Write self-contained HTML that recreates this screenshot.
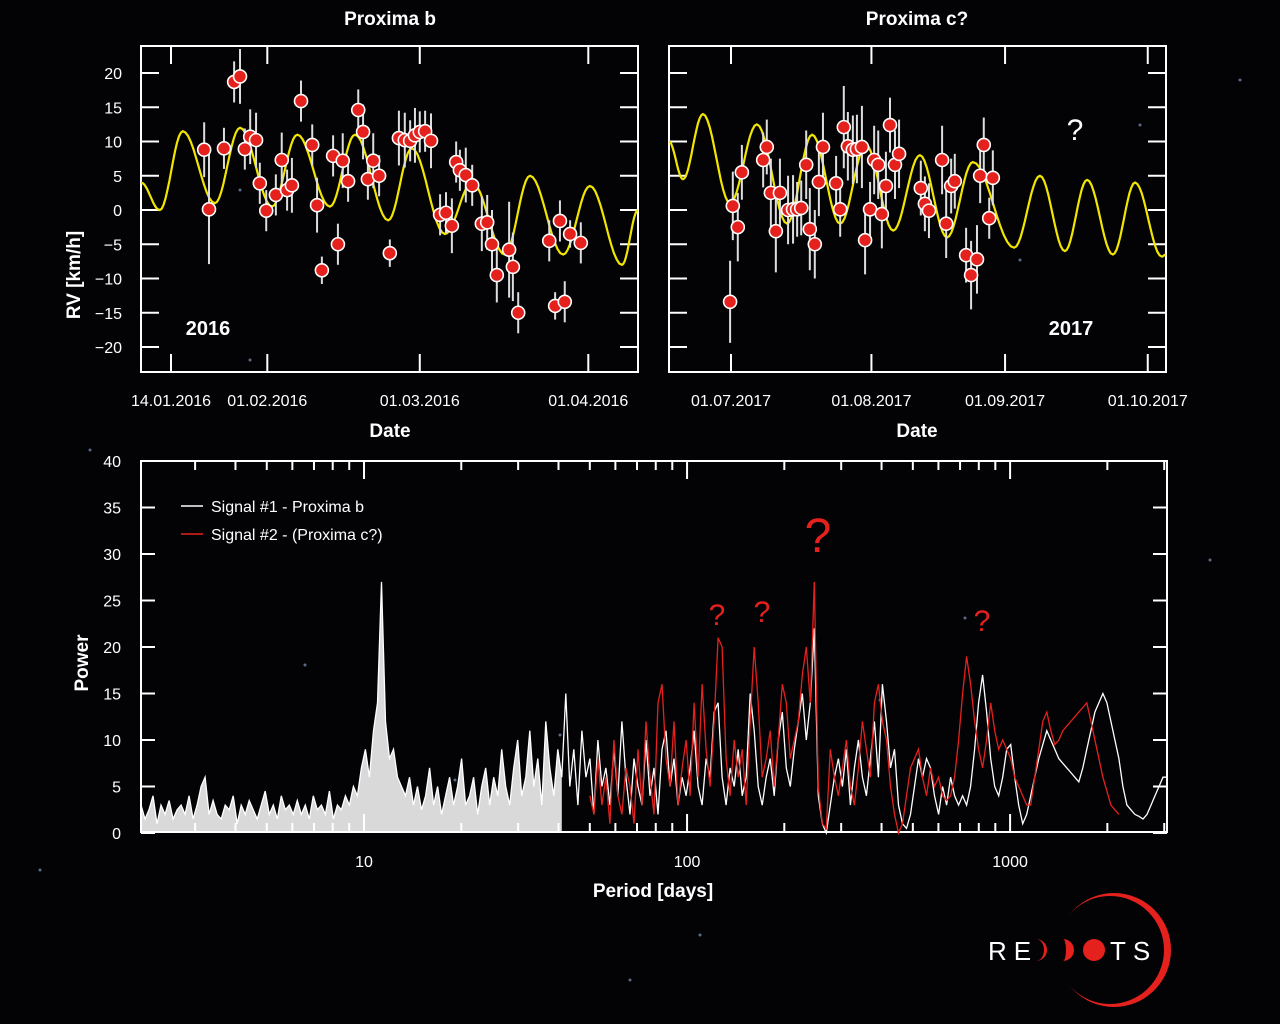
<!DOCTYPE html>
<html><head><meta charset="utf-8"><style>
html,body{margin:0;padding:0;background:#030306;}
svg{display:block;font-family:"Liberation Sans",sans-serif;}
</style></head><body>
<svg id="s" width="1280" height="1024" viewBox="0 0 1280 1024" xmlns="http://www.w3.org/2000/svg">
<rect width="1280" height="1024" fill="#030306"/>
<g id="stars"></g>
<text x="390" y="25" fill="#fff" font-size="19" font-weight="bold" text-anchor="middle">Proxima b</text>
<text x="917" y="25" fill="#fff" font-size="19" font-weight="bold" text-anchor="middle">Proxima c?</text>
<g id="p1"></g>
<g id="p2"></g>
<g id="p3"></g>
<text x="80" y="275" fill="#fff" font-size="19" font-weight="bold" text-anchor="middle" transform="rotate(-90 80 275)">RV [km/h]</text>
<text x="390" y="437" fill="#fff" font-size="19" font-weight="bold" text-anchor="middle">Date</text>
<text x="917" y="437" fill="#fff" font-size="19" font-weight="bold" text-anchor="middle">Date</text>
<text x="88" y="663" fill="#fff" font-size="19" font-weight="bold" text-anchor="middle" transform="rotate(-90 88 663)">Power</text>
<text x="653" y="897" fill="#fff" font-size="19" font-weight="bold" text-anchor="middle">Period [days]</text>
<text x="208" y="335" fill="#fff" font-size="20" font-weight="bold" text-anchor="middle">2016</text>
<text x="1071" y="335" fill="#fff" font-size="20" font-weight="bold" text-anchor="middle">2017</text>
<text x="1075" y="140" fill="#fff" font-size="30" text-anchor="middle">?</text>
<g fill="#e5211d" text-anchor="middle">
<text x="717" y="625" font-size="30">?</text>
<text x="762" y="622" font-size="30">?</text>
<text x="818" y="552" font-size="48">?</text>
<text x="982" y="631" font-size="30">?</text>
</g>
<g>
<line x1="181" y1="506" x2="203" y2="506" stroke="#fff" stroke-width="1.5"/>
<text x="211" y="512" fill="#fff" font-size="16">Signal #1 - Proxima b</text>
<line x1="181" y1="534" x2="203" y2="534" stroke="#e5211d" stroke-width="1.5"/>
<text x="211" y="540" fill="#fff" font-size="16">Signal #2 - (Proxima c?)</text>
</g>
<g>
<circle cx="1114" cy="950" r="57" fill="#e5211d"/>
<circle cx="1110" cy="950" r="54" fill="#030306"/>
<text x="988" y="960" fill="#fff" font-size="26" letter-spacing="7">RE</text>
<path d="M1036 939 A11 11 0 0 1 1036 961 A8 11 0 0 0 1036 939Z" fill="#e5211d"/>
<path d="M1063 939 A11 11 0 0 1 1063 961 A3 11 0 0 0 1063 939Z" fill="#e5211d"/>
<circle cx="1094" cy="950" r="11" fill="#e5211d"/>
<text x="1110" y="960" fill="#fff" font-size="26" letter-spacing="7">TS</text>
</g>
</svg>
<script>
// ---- data: 2016 RV (day since 14.01.2016) ----
const days16=[6.2,7.1,9.9,11.8,12.9,13.8,14.8,15.9,16.6,17.8,19.6,20.7,21.7,22.6,24.3,26.4,27.3,28.2,30.3,31.2,32.1,33.1,35,35.9,36.8,37.8,38.9,40.9,42.6,43.7,44.7,45.6,46.5,47.5,48.6,50.3,51.4,52.5,53.3,54,55.1,56.3,58.1,59.1,60,60.9,63.2,63.9,64.9,70.7,71.8,72.7,73.6,74.6,76.6];
const rv16=[8.8,0.1,9,18.7,19.5,8.9,10.7,10.2,3.9,-0.1,2.2,7.3,2.9,3.6,15.9,9.5,0.7,-8.8,7.9,-5,7.2,4.2,14.6,11.4,4.5,7.2,5,-6.3,10.5,10.2,10.1,10.9,11.4,11.5,10.1,-0.7,-0.4,-2.3,7,5.8,5.1,3.6,-2,-1.8,-5,-9.5,-5.8,-8.3,-15,-4.5,-14,-1.6,-13.4,-3.5,-4.8];
const err16=[4,8,3,3,4,3,4,4,3,3,3,4,3,4,3,3,4,2,3,3,4,3,3,4,3,4,3,2,4,4,3,4,3,3,4,3,3,4,3,3,4,3,4,4,5,4,7,5,3,3,2,3,3,2,3];
const fitDays16=[-5.6,-2.1,2.2,8.2,12.9,18.9,23.6,29.7,34.4,40.6,45,51.2,56.3,62.4,67.1,73.3,78.3,84.3,87.3];
const fitVals16=[4,0,11.5,1,12,0.5,11,0.5,11,-1.5,9,-3.5,4,-6.5,5,-6.5,3.5,-8,0];
const ticks16=[{d:0,l:"14.01.2016"},{d:18,l:"01.02.2016"},{d:46.5,l:"01.03.2016"},{d:78,l:"01.04.2016"}];
// ---- data: 2017 RV (day since 01.07.2017) ----
const days17=[-0.2,0.4,1.5,2.4,7.1,7.9,8.8,9.9,10.8,12.6,13.7,14.6,15.5,16.6,17.4,18.5,19.4,20.3,23.2,24.1,24.9,25.8,26.9,27.8,28.9,29.6,30.7,31.6,32.5,33.3,34.2,35.1,36.2,37.1,41.9,42.8,43.7,46.6,47.5,48.6,49.4,51.9,53,54.3,55,55.8,57,57.8];
const rv17=[-13.4,0.6,-2.5,5.5,7.3,9.2,2.5,-3.1,2.5,0,0.1,0.1,0.3,6.6,-2.8,-5,4.1,9.2,3.9,0.1,12.1,9.3,8.8,8.9,9.2,-4.4,0.1,7.3,6.6,-0.6,3.5,12.4,6.6,8.2,3.2,0.9,-0.1,7.3,-2,3.5,4.2,-6.6,-9.5,-7.2,5,9.5,-1.2,4.7];
const err17=[6,5,5,4,4,4,5,6,5,5,5,4,4,5,6,5,5,5,4,4,6,5,5,5,6,5,4,5,5,5,5,4,5,5,4,4,4,5,5,4,4,4,5,5,4,4,3,4];
const fitDays17=[-13.7,-10.6,-6.2,-0.2,5.7,12.4,17.9,24.1,29.8,35.8,41.7,47.7,53.4,62.5,68.2,73.7,78.6,84.3,89.2,95.1,96];
const fitVals17=[10,4.5,14,1,12.5,-2,11,-2,9.5,-3,8,-4,7,-5.5,5,-6,4.4,-6.5,4,-6.8,-6.5];
const ticks17=[{d:0,l:"01.07.2017"},{d:31,l:"01.08.2017"},{d:60.5,l:"01.09.2017"},{d:92,l:"01.10.2017"}];
// ---- data: periodogram powers (index i -> log-spaced period between pMin and pMax) ----
const pMin=2.04, pMax=3060, nBins=257;
const power1=[3,1.5,2.5,4,1,3,2,3.5,1.5,2.5,
3,2,4,1.5,3,5,6,2,3.5,2,
1.5,3,2.5,4,1,3,2,3.5,2.5,1.5,
3,4.5,2,3,1.5,4,2.5,3,2,3.5,
2,3,1.5,4,2.5,3,2,4.5,1.5,3,
2.5,4,3,5,
4,7,9,6,11,14,27,12,8,9,6,5,
4,6,3,5,2.5,4,7,3,5,2,
4,6,3,5,8,3,4,6,2,5,
7,3,6,4,9,5,3,7,10,4,
6,11,5,8,3,12,7,4,9,6,
15,5,9,3,11,6,8,2,10,5,
7,3,9,4,12,6,2,8,5,3,
10,4,7,2,9,11,5,8,3,6,
4,7,11,5,3,8,6,13,14,6,
3,7,5,9,4,6,15,11,5,3,
6,8,4,10,13,7,5,9,12,15,
10,14,22,4,1,0,3,6,8,5,
9,3,7,10,6,4,8,12,6,16,
12,7,9,3,1,0.5,2,5,8,6,
8,7,4,2,5,3,6,4,3,4,
3,5,9,14,17,13,8,5,4,6,
9,9.5,6,3,1,2,4,6,8,9.5,
11,10,9,8,7.5,7,6.5,6,5.5,7,
9,11,13,14,15,14,12,10,8,5,
3,2.5,2,1.8,1.5,2,3,4,5,6,6];
const power2Start=112;
const power2=[4,2,8,3,6,1,10,4,2,7,
5,1,9,3,12,6,2,14,16,8,
5,12,3,7,10,4,14,6,16,9,
5,12,21,20,8,4,10,6,9,3,
12,20,14,6,8,11,5,10,16,14,
8,10,12,17,20,14,27,5,1,0.5,
9,6,4,7,10,5,3,7,12,9,
6,14,16,12,10,5,2,0,1,4,
7,8,9,6,4,7,5,6,4,3.5,
4,6,10,15,19,16,12,9,7,10,
14,11,9,10,9,8,6,5,4,3,
3,6,9,12,13,11,9.5,10,11,11.5,
12,12.5,13,13.5,14,12,10,8,6,4.5,
3,2.5,2];
const powerTicks=[0,5,10,15,20,25,30,35,40];
const periodLabels=[10,100,1000];

const NS="http://www.w3.org/2000/svg";
function mk(tag,attrs,parent){const e=document.createElementNS(NS,tag);for(const k in attrs)e.setAttribute(k,attrs[k]);parent.appendChild(e);return e;}

const stars=document.getElementById('stars');
[[240,190],[305,665],[1020,260],[560,735],[965,618],[1140,125],[250,360],[700,935],[455,780],[1210,560],[90,450],[880,700],[630,980],[1240,80],[40,870]].forEach(p=>{
 const c=mk('circle',{cx:p[0],cy:p[1],r:1.5,fill:'#5a6a88'},stars);
 
 
});

function rvPanel(g,X0,X1,x0,pxPerDay,days,rv,err,fd,fv,ticks,showY){
 const Y0=46,Y1=372;
 const y=v=>210-v*6.85;
 const x=d=>x0+d*pxPerDay;
 const fr=mk('rect',{x:X0,y:Y0,width:X1-X0,height:Y1-Y0,fill:'none',stroke:'#fff','stroke-width':2},g);
 
 
 [-20,-15,-10,-5,0,5,10,15,20].forEach(v=>{
  const a=mk('line',{x1:X0,y1:y(v),x2:X0+18,y2:y(v),stroke:'#fff','stroke-width':2},g);
  
  
  const b=mk('line',{x1:X1-18,y1:y(v),x2:X1,y2:y(v),stroke:'#fff','stroke-width':2},g);
  
  
  if(showY){const t=mk('text',{x:X0-19,y:y(v)+6,fill:'#fff','font-size':16,'text-anchor':'end'},g);t.textContent=(v<0?'\u2212'+(-v):v);
   
   }
 });
 ticks.forEach(tk=>{
  const xx=x(tk.d);
  const a=mk('line',{x1:xx,y1:Y0,x2:xx,y2:Y0+18,stroke:'#fff','stroke-width':2},g);
  
  
  const b=mk('line',{x1:xx,y1:Y1-18,x2:xx,y2:Y1,stroke:'#fff','stroke-width':2},g);
  
  
  const t=mk('text',{x:xx,y:406,fill:'#fff','font-size':16,'text-anchor':'middle'},g);t.textContent=tk.l;
  
  
 });
 let pts=[];
 for(let i=0;i<fd.length-1;i++){
  for(let s=0;s<12;s++){const f=s/12;const d=fd[i]+(fd[i+1]-fd[i])*f;const v=fv[i]+(fv[i+1]-fv[i])*(1-Math.cos(Math.PI*f))/2;
   pts.push(Math.max(X0,Math.min(X1,x(d))).toFixed(1)+','+y(v).toFixed(1));}
 }
 pts.push(Math.min(X1,x(fd[fd.length-1])).toFixed(1)+','+y(fv[fv.length-1]).toFixed(1));
 const cv=mk('polyline',{points:pts.join(' '),fill:'none',stroke:'#f2e600','stroke-width':2.2},g);
 
 
 days.forEach((d,i)=>{
  const eb=mk('line',{x1:x(d),y1:y(rv[i]+err[i]),x2:x(d),y2:y(rv[i]-err[i]),stroke:'#ddd','stroke-width':2},g);
  
  
 });
 days.forEach((d,i)=>{
  const c=mk('circle',{cx:x(d),cy:y(rv[i]),r:6.5,fill:'#e5211d',stroke:'#fff','stroke-width':1.6},g);
  
  
 });
}
rvPanel(document.getElementById('p1'),141,638,171,5.35,days16,rv16,err16,fitDays16,fitVals16,ticks16,true);
rvPanel(document.getElementById('p2'),669,1166,731,4.53,days17,rv17,err17,fitDays17,fitVals17,ticks17,false);

(function(){
 const g=document.getElementById('p3');
 const X0=141,X1=1167,Y0=461,Y1=832;
 const lmin=Math.log10(pMin),lmax=Math.log10(pMax);
 const xp=p=>X0+(Math.log10(p)-lmin)/(lmax-lmin)*(X1-X0);
 const yp=v=>833-v*9.3;
 const periodAt=i=>Math.pow(10,lmin+(lmax-lmin)*i/(nBins-1));
 const fr=mk('rect',{x:X0,y:Y0,width:X1-X0,height:Y1-Y0,fill:'none',stroke:'#fff','stroke-width':2},g);
 
 
 powerTicks.forEach(v=>{
  const a=mk('line',{x1:X0,y1:yp(v),x2:X0+14,y2:yp(v),stroke:'#fff','stroke-width':2},g);
  
  
  const b=mk('line',{x1:X1-14,y1:yp(v),x2:X1,y2:yp(v),stroke:'#fff','stroke-width':2},g);
  
  
  const t=mk('text',{x:X0-20,y:yp(v)+6,fill:'#fff','font-size':16,'text-anchor':'end'},g);t.textContent=v;
  
  
 });
 for(let dec=1;dec<=1000;dec*=10){
  for(let m=1;m<10;m++){const p=dec*m;if(p<pMin||p>pMax)continue;const xx=xp(p);const L=(m===1)?18:9;
   const a=mk('line',{x1:xx,y1:Y0,x2:xx,y2:Y0+L,stroke:'#fff','stroke-width':2},g);
   
   
   const b=mk('line',{x1:xx,y1:Y1-L,x2:xx,y2:Y1,stroke:'#fff','stroke-width':2},g);
   
   }
 }
 periodLabels.forEach(p=>{
  const t=mk('text',{x:xp(p),y:867,fill:'#fff','font-size':16,'text-anchor':'middle'},g);t.textContent=p;
  
  
 });
 let pts=power1.map((v,i)=>xp(periodAt(i)).toFixed(1)+','+yp(v).toFixed(1));
 const area=mk('polygon',{points:xp(pMin)+','+yp(0)+' '+pts.slice(0,106).join(' ')+' '+xp(periodAt(105)).toFixed(1)+','+yp(0),fill:'#fff','fill-opacity':0.85},g);
 
 
 const l1=mk('polyline',{points:pts.join(' '),fill:'none',stroke:'#fff','stroke-width':1.3},g);
 
 
 const pts2=power2.map((v,i)=>xp(periodAt(i+power2Start)).toFixed(1)+','+yp(v).toFixed(1));
 const l2=mk('polyline',{points:pts2.join(' '),fill:'none',stroke:'#e5211d','stroke-width':1.3},g);
 
 
})();
</script>
</body></html>
